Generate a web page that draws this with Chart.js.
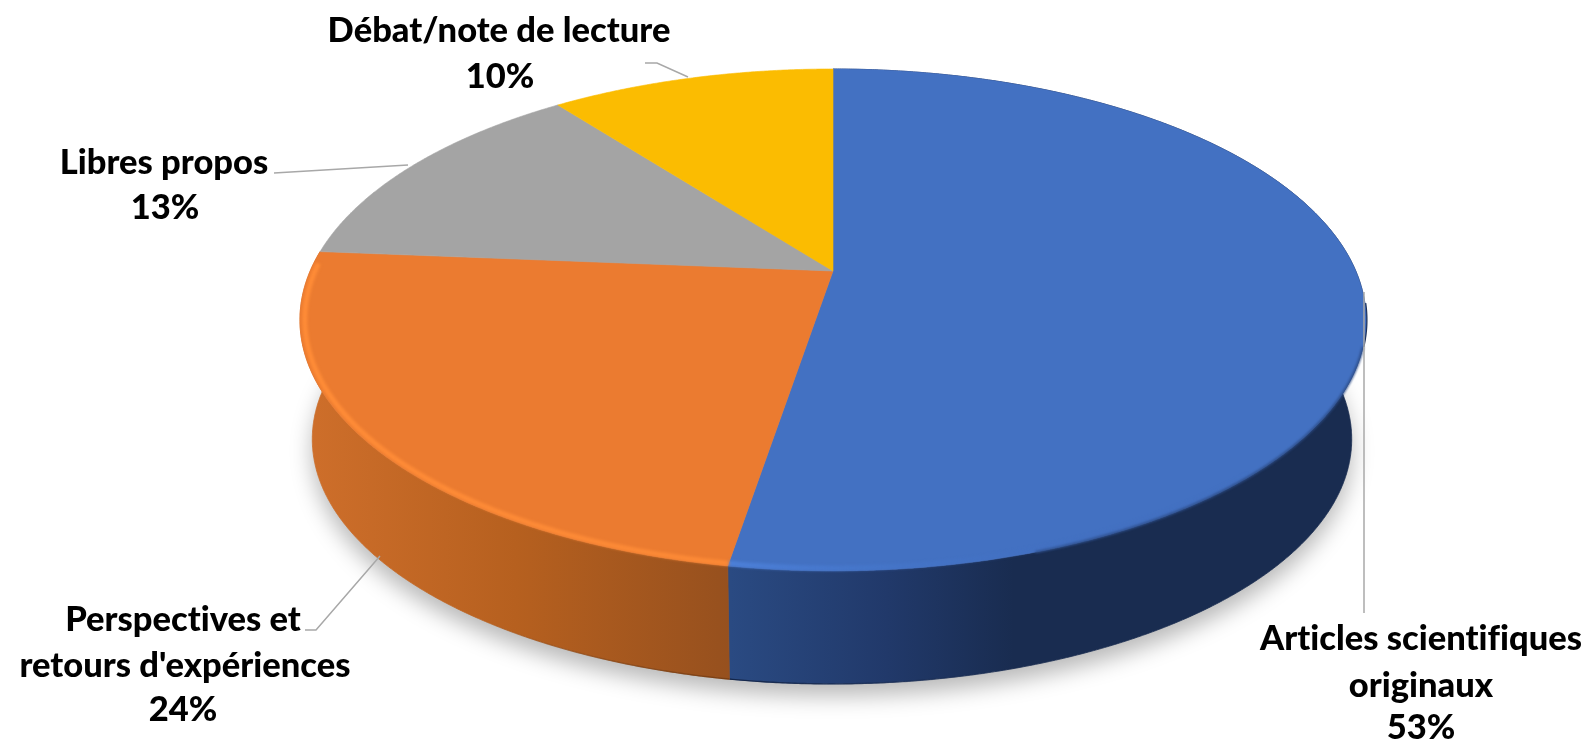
<!DOCTYPE html>
<html>
<head>
<meta charset="utf-8">
<title>Répartition des articles</title>
<script src="https://cdn.jsdelivr.net/npm/chart.js@4/dist/chart.umd.min.js"></script>
<style>
  html, body { margin: 0; padding: 0; background: #fff; overflow: hidden; }
  canvas { display: block; }
</style>
</head>
<body>
<canvas id="pie" width="1588" height="741"></canvas>
<script>
// valeurs
const categories = ['Articles scientifiques originaux', "Perspectives et retours d'expériences", 'Libres propos', 'Débat/note de lecture'];
const shares = [52.6, 23.7, 13.3, 10.4];
const topColors = ['#4371C2', '#EB7B30', '#A4A4A4', '#FBBC01'];

// lignes de chaque étiquette: [texte, centre x, ligne de base y]
const labelLines = [
  [['Articles scientifiques', 1421, 650], ['originaux', 1421, 697], ['%', 1421, 739]],
  [['Perspectives et', 183, 631], ["retours d'expériences", 185, 677], ['%', 183, 721]],
  [['Libres propos', 164, 174], ['%', 165, 219]],
  [['Débat/note de lecture', 499, 42], ['%', 500, 88]]
];
const leaders = [
  [[1364, 292], [1364, 613]],
  [[305, 630], [316, 630], [380, 556]],
  [[274, 173], [408, 165]],
  [[645, 63], [657, 63], [688, 77]]
];

// géométrie du disque en perspective
const CX = 833, APEX_Y = 271, RX = 522.8, RY = 241.4, K = -0.195;
const BOTTOM = { cx: 832, apexY: 391.5, s: 0.975 };

function topPoint(a, s = 1) {
  const u = Math.cos(a), v = Math.sin(a), d = 1 + K * v;
  return [CX + s * RX * u / d, APEX_Y + s * RY * v / d];
}
function bottomPoint(a) {
  const u = Math.cos(a), v = Math.sin(a), d = 1 + K * v;
  return [BOTTOM.cx + BOTTOM.s * RX * u / d, BOTTOM.apexY + BOTTOM.s * RY * v / d];
}
function rim(fn, a0, a1) {
  const n = Math.max(2, Math.ceil(Math.abs(a1 - a0) / 0.005));
  const pts = [];
  for (let i = 0; i <= n; i++) pts.push(fn(a0 + (a1 - a0) * i / n));
  return pts;
}
function trace(ctx, pts, joined) {
  pts.forEach((p, i) => (i || joined) ? ctx.lineTo(p[0], p[1]) : ctx.moveTo(p[0], p[1]));
}
function hGradient(ctx, x0, x1, stops) {
  const g = ctx.createLinearGradient(x0, 0, x1, 0);
  stops.forEach(s => g.addColorStop(s[0], s[1]));
  return g;
}

const pie3d = {
  id: 'pie3d',
  beforeDatasetDraw(chart, args) {
    const ctx = chart.ctx;
    const arcs = args.meta.data;
    const colors = chart.data.datasets[0].backgroundColor;
    const walls = [
      hGradient(ctx, 730, 1360, [[0, '#2A4A82'], [0.25, '#21396A'], [0.45, '#192C50'], [1, '#192C50']]),
      hGradient(ctx, 300, 732, [[0, '#CF6F2B'], [0.5, '#B6601F'], [1, '#96501E']])
    ];
    const glow = [
      hGradient(ctx, 730, 1250, [[0, 'rgba(78,130,220,0.9)'], [0.3, 'rgba(70,120,205,0.55)'], [1, 'rgba(60,100,180,0)']]),
      hGradient(ctx, 300, 732, [[0, 'rgba(255,140,55,1)'], [1, 'rgba(255,140,55,0.85)']])
    ];
    const edges = [
      hGradient(ctx, 730, 1100, [[0, 'rgba(20,38,74,1)'], [1, 'rgba(20,38,74,0)']]),
      hGradient(ctx, 480, 732, [[0, 'rgba(122,63,20,0)'], [1, 'rgba(122,63,20,1)']])
    ];

    // ombre portée
    ctx.save();
    ctx.shadowColor = 'rgba(0,0,0,0.28)';
    ctx.shadowBlur = 22;
    ctx.shadowOffsetY = 12;
    ctx.fillStyle = '#ccc';
    ctx.beginPath();
    trace(ctx, rim(bottomPoint, 0, Math.PI * 2));
    ctx.closePath();
    ctx.fill();
    ctx.restore();

    // parois: bleu et orange seulement, le reste est caché
    arcs.forEach((arc, i) => {
      if (i > 1) return;
      const up = rim(topPoint, arc.startAngle, arc.endAngle);
      const down = rim(bottomPoint, arc.startAngle, arc.endAngle).reverse();
      ctx.fillStyle = walls[i];
      ctx.beginPath();
      trace(ctx, up.concat(down));
      ctx.closePath();
      ctx.fill();
      ctx.strokeStyle = walls[i];
      ctx.lineWidth = 0.8;
      ctx.stroke();
      // bas de paroi un peu plus sombre
      ctx.strokeStyle = edges[i];
      ctx.lineWidth = 1.4;
      ctx.beginPath();
      trace(ctx, rim(bottomPoint, Math.max(arc.startAngle, 1.0), Math.min(arc.endAngle, 2.4)));
      ctx.stroke();
    });

    // filet sombre sur le bord droit
    ctx.strokeStyle = '#1B2F56';
    ctx.lineWidth = 3;
    ctx.beginPath();
    trace(ctx, rim(topPoint, 0.13, 0.3));
    ctx.stroke();

    // dessus
    arcs.forEach((arc, i) => {
      ctx.fillStyle = colors[i];
      ctx.beginPath();
      ctx.moveTo(CX, APEX_Y);
      trace(ctx, rim(topPoint, arc.startAngle, arc.endAngle), true);
      ctx.closePath();
      ctx.fill();
      ctx.strokeStyle = colors[i];
      ctx.lineWidth = 0.6;
      ctx.stroke();
    });

    // bord flou côté droit, puis biseau clair le long du bord avant
    ctx.save();
    ctx.filter = 'blur(1.2px)';
    ctx.strokeStyle = 'rgba(44,77,135,0.9)';
    ctx.lineWidth = 2.5;
    ctx.beginPath();
    trace(ctx, rim(topPoint, 0.3, 1.25));
    ctx.stroke();
    ctx.filter = 'blur(1.6px)';
    arcs.forEach((arc, i) => {
      if (i > 1) return;
      ctx.strokeStyle = glow[i];
      ctx.lineWidth = 5;
      ctx.beginPath();
      const a0 = i === 0 ? 0.5 : arc.startAngle;
      const a1 = i === 0 ? arc.endAngle : arc.endAngle - 0.05;
      trace(ctx, rim(a => topPoint(a, 0.991), a0, a1));
      ctx.stroke();
    });
    ctx.restore();

    // traits de rappel
    ctx.strokeStyle = '#A8A8A8';
    ctx.lineWidth = 1.5;
    leaders.forEach(line => {
      ctx.beginPath();
      trace(ctx, line);
      ctx.stroke();
    });

    // étiquettes
    ctx.fillStyle = '#000';
    ctx.font = '900 34.5px Lato';
    ctx.letterSpacing = '0.01px';
    ctx.textAlign = 'center';
    ctx.textBaseline = 'alphabetic';
    labelLines.forEach((lines, i) => {
      lines.forEach(l => {
        const txt = l[0] === '%' ? Math.round(shares[i]) + '%' : l[0];
        ctx.fillText(txt, l[1], l[2]);
      });
    });
    return false;
  }
};

new Chart(document.getElementById('pie'), {
  type: 'pie',
  data: {
    labels: categories,
    datasets: [{ data: shares, backgroundColor: topColors, borderWidth: 0 }]
  },
  options: {
    responsive: false,
    animation: false,
    events: [],
    plugins: { legend: { display: false }, tooltip: { enabled: false } }
  },
  plugins: [pie3d]
});
</script>
</body>
</html>
